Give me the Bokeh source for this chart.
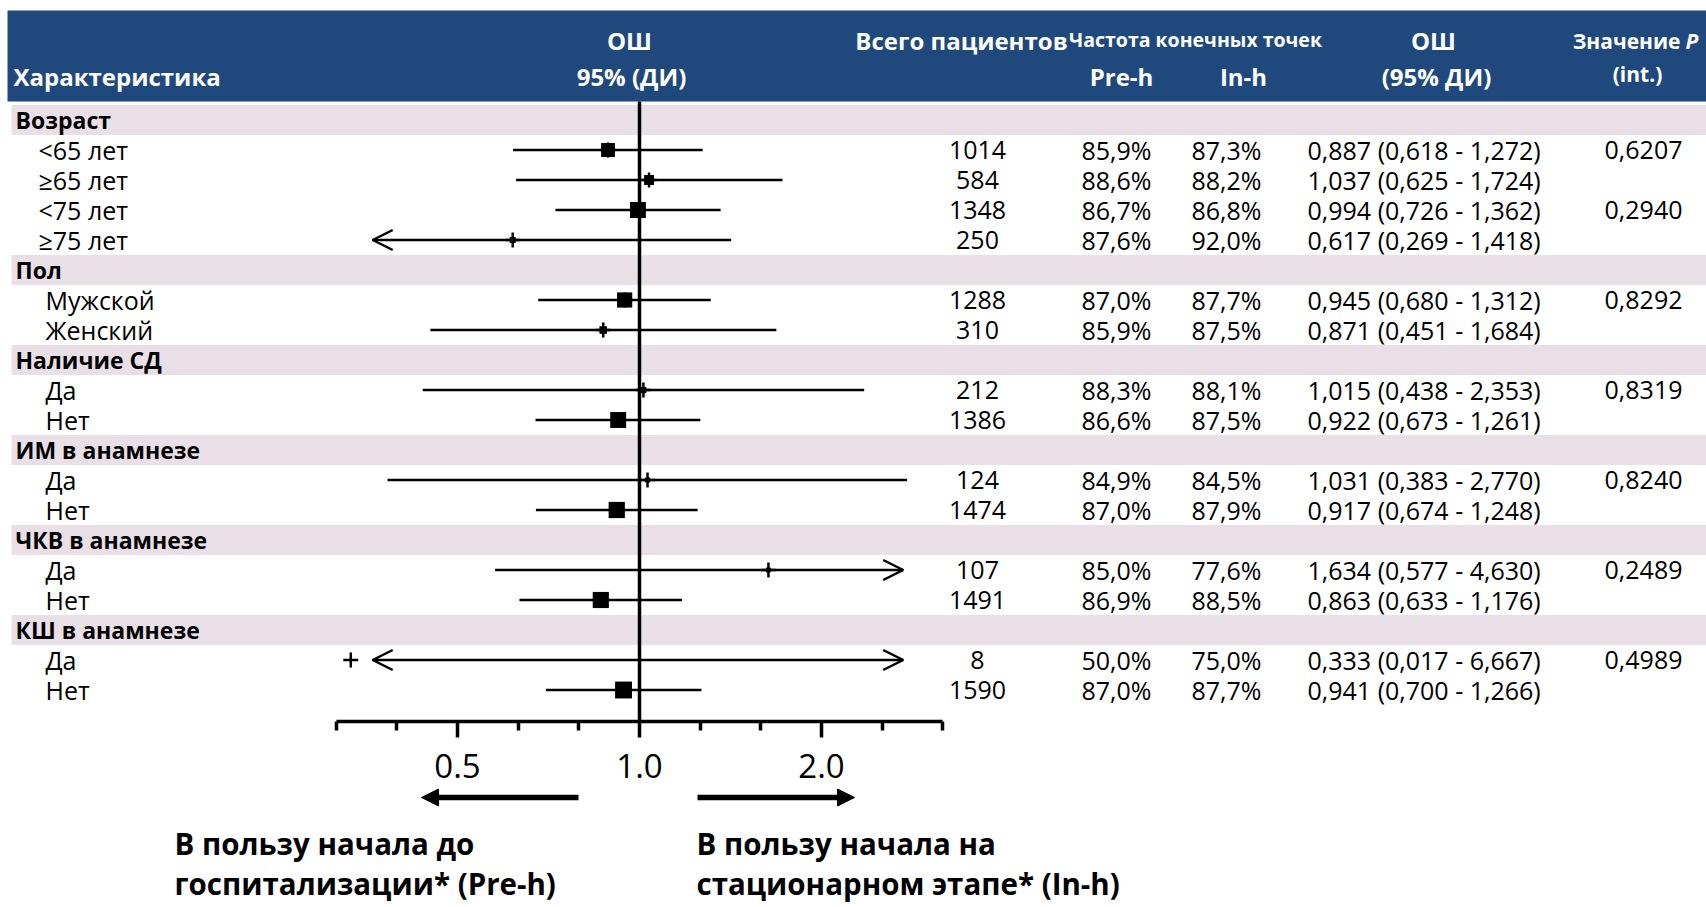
import math
from bokeh.plotting import figure
from bokeh.models import (Range1d, LogScale, LogAxis, FixedTicker, ColumnDataSource,
                          Arrow, OpenHead, NormalHead)
from bokeh.core.properties import value, field
from bokeh.embed import file_html
from bokeh.resources import INLINE

# ---------------- data ----------------
groups = ["Возраст", "Пол", "Наличие СД", "ИМ в анамнезе", "ЧКВ в анамнезе", "КШ в анамнезе"]
group_sizes = [4, 2, 2, 2, 2, 2]
sub_labels = ["<65 лет", "≥65 лет", "<75 лет", "≥75 лет",
              "Мужской", "Женский",
              "Да", "Нет",
              "Да", "Нет",
              "Да", "Нет",
              "Да", "Нет"]
n_total = [1014, 584, 1348, 250, 1288, 310, 212, 1386, 124, 1474, 107, 1491, 8, 1590]
pre_h = [85.9, 88.6, 86.7, 87.6, 87.0, 85.9, 88.3, 86.6, 84.9, 87.0, 85.0, 86.9, 50.0, 87.0]
in_h = [87.3, 88.2, 86.8, 92.0, 87.7, 87.5, 88.1, 87.5, 84.5, 87.9, 77.6, 88.5, 75.0, 87.7]
odds = [0.887, 1.037, 0.994, 0.617, 0.945, 0.871, 1.015, 0.922, 1.031, 0.917, 1.634, 0.863, 0.333, 0.941]
ci_lo = [0.618, 0.625, 0.726, 0.269, 0.680, 0.451, 0.438, 0.673, 0.383, 0.674, 0.577, 0.633, 0.017, 0.700]
ci_hi = [1.272, 1.724, 1.362, 1.418, 1.312, 1.684, 2.353, 1.261, 2.770, 1.248, 4.630, 1.176, 6.667, 1.266]
p_int = ["0,6207", "", "0,2940", "", "0,8292", "", "0,8319", "", "0,8240", "", "0,2489", "", "0,4989", ""]
tick_labels = {0.5: "0.5", 1.0: "1.0", 2.0: "2.0"}

# ---------------- layout ----------------
W, H = 1706, 907
M = 0                     # the page template has no body margin
ROW0 = 119.5              # page y of first row centre
PITCH = 30.0
ONE_X = 639.0             # page x of OR = 1
PX_LOG2 = 182.0           # px per doubling
AXIS_Y = 721.0            # page y of the OR axis
FONT = "Open Sans"
NAVY = "#1F497D"
LAV = "#E8DFE7"


def cx(page_x):
    return page_x - M


def ry(page_y):
    return (page_y - ROW0) / PITCH


def fmt(v, d):
    return f"{v:.{d}f}".replace(".", ",")


p = figure(width=W, height=H, output_backend="svg", toolbar_location=None,
           x_range=Range1d(0, W), y_range=Range1d(ry(M + H), ry(M)),
           x_axis_location=None, y_axis_location=None, min_border=0,
           background_fill_color="white", border_fill_color="white",
           outline_line_color=None)
p.grid.visible = False
p.extra_x_ranges = {"or": Range1d(2 ** ((M - ONE_X) / PX_LOG2), 2 ** ((M + W - ONE_X) / PX_LOG2))}
p.extra_x_scales = {"or": LogScale()}

# header band
p.quad(left=cx(7), right=W, top=ry(10), bottom=ry(101), fill_color=NAVY, line_color=None)

# rows
row = 0
group_rows, sub_rows, indents = [], [], []
for g, n in zip(groups, group_sizes):
    group_rows.append(row)
    row += 1
    for j in range(n):
        sub_rows.append(row)
        indents.append(38 if g == "Возраст" else 45)
        row += 1

p.quad(left=cx(11), right=W, top=[r - 0.5 for r in group_rows], bottom=[r + 0.5 for r in group_rows],
       fill_color=LAV, line_color=None)

bold_txt = dict(text_font=value(FONT), text_font_style="bold", text_baseline="middle")
reg_txt = dict(text_font=value(FONT), text_baseline="middle", text_color="black")

p.text(x=cx(15), y=group_rows, text=groups, text_font_size="23px", text_color="black",
       text_align="left", **bold_txt)

src = ColumnDataSource(dict(
    y=sub_rows,
    xl=[cx(v) for v in indents],
    lab=sub_labels,
    n=[str(v) for v in n_total],
    pre=[fmt(v, 1) + "%" for v in pre_h],
    inh=[fmt(v, 1) + "%" for v in in_h],
    ortxt=[f"{fmt(o, 3)} ({fmt(a, 3)} - {fmt(b, 3)})" for o, a, b in zip(odds, ci_lo, ci_hi)],
    pv=p_int,
))
FS = "25px"
p.text(x="xl", y="y", text="lab", source=src, text_font_size=FS, text_align="left", **reg_txt)
p.text(x=cx(977), y="y", text="n", source=src, text_font_size=FS, text_align="center", **reg_txt)
p.text(x=cx(1116), y="y", text="pre", source=src, text_font_size=FS, text_align="center", **reg_txt)
p.text(x=cx(1226), y="y", text="inh", source=src, text_font_size=FS, text_align="center", **reg_txt)
p.text(x=cx(1307), y="y", text="ortxt", source=src, text_font_size=FS, text_align="left", **reg_txt)
p.text(x=cx(1643), y="y", text="pv", source=src, text_font_size=FS, text_align="center", **reg_txt)


# header texts
def htext(x, y, t, size, align="center", style="bold"):
    p.text(x=[cx(x)], y=[ry(y)], text=[t], text_font=value(FONT), text_font_style=style,
           text_font_size=size, text_color="white", text_align=align, text_baseline="middle")


htext(13, 76, "Характеристика", "24px", "left")
htext(629, 40, "ОШ", "24px")
htext(631, 76, "95% (ДИ)", "24px")
htext(961, 40, "Всего пациентов", "24px")
htext(1195, 39, "Частота конечных точек", "19.5px")
htext(1121, 76, "Pre-h", "24px")
htext(1243, 76, "In-h", "24px")
htext(1433, 40, "ОШ", "24px")
htext(1436, 76, "(95% ДИ)", "24px")
htext(1680, 40, "Значение", "21px", "right")
htext(1685, 40, "P", "21px", "left", "bold italic")
htext(1637, 73, "(int.)", "21px")

# ---------------- forest ----------------
CLIP_LO, CLIP_HI = 0.362, 2.73
AX_MIN, AX_MAX = 2 ** (-5 / 3), 2 ** (5 / 3)

x0 = [max(a, CLIP_LO) if a < AX_MIN else a for a in ci_lo]
x1 = [min(b, CLIP_HI) if b > AX_MAX else b for b in ci_hi]
se = [math.log(b / a) / 3.92 for a, b in zip(ci_lo, ci_hi)]
sizes = [2.55 / s for s in se]

fsrc = ColumnDataSource(dict(y=sub_rows, x0=x0, x1=x1, orv=odds, size=sizes))

# reference line at OR = 1
p.segment(x0=[1.0], x1=[1.0], y0=[ry(101)], y1=[ry(AXIS_Y)], x_range_name="or",
          line_color="black", line_width=3.5)

p.segment(x0="x0", x1="x1", y0="y", y1="y", source=fsrc, x_range_name="or",
          line_color="black", line_width=2.5)
p.scatter(x="orv", y="y", source=fsrc, x_range_name="or", marker="square", size="size",
          fill_color="black", line_color=None)
p.scatter(x="orv", y="y", source=fsrc, x_range_name="or", marker="cross", size=15,
          line_color="black", line_width=2.5)

lo_rows = [r for r, a in zip(sub_rows, ci_lo) if a < AX_MIN]
hi_rows = [r for r, b in zip(sub_rows, ci_hi) if b > AX_MAX]
for rows_, tip in ((lo_rows, CLIP_LO), (hi_rows, CLIP_HI)):
    if rows_:
        asrc = ColumnDataSource(dict(y=rows_, xs=[1.0] * len(rows_), xe=[tip] * len(rows_)))
        p.add_layout(Arrow(end=OpenHead(size=20, line_width=2.5, line_color="black"),
                           x_start=field("xs"), x_end=field("xe"),
                           y_start=field("y"), y_end=field("y"),
                           line_alpha=0, x_range_name="or", source=asrc))

major = [0.5, 1.0, 2.0]
minor = [2 ** (i / 3) for i in range(-5, 6) if i % 3 != 0]
ax = LogAxis(x_range_name="or", fixed_location=ry(AXIS_Y), bounds=(AX_MIN, AX_MAX),
             ticker=FixedTicker(ticks=major, minor_ticks=minor),
             major_label_overrides=tick_labels,
             axis_line_width=3.5, axis_line_color="black",
             major_tick_line_width=3.5, minor_tick_line_width=3.5,
             major_tick_out=16, major_tick_in=0, minor_tick_out=9, minor_tick_in=0,
             major_label_text_font=FONT, major_label_text_font_size="33px",
             major_label_text_color="black", major_label_standoff=16)
p.add_layout(ax, "below")

# direction arrows and captions
p.add_layout(Arrow(end=NormalHead(size=17, fill_color="black", line_color="black"),
                   x_start=cx(578), x_end=cx(421), y_start=ry(797), y_end=ry(797),
                   line_width=5.5, line_color="black"))
p.add_layout(Arrow(end=NormalHead(size=17, fill_color="black", line_color="black"),
                   x_start=cx(697), x_end=cx(854), y_start=ry(797), y_end=ry(797),
                   line_width=5.5, line_color="black"))

cap = dict(text_font=value(FONT), text_font_style="bold", text_font_size="29.5px",
           text_color="black", text_align="left", text_baseline="middle")
p.text(x=[cx(174), cx(174)], y=[ry(843), ry(883)],
       text=["В пользу начала до", "госпитализации* (Pre-h)"], **cap)
p.text(x=[cx(696), cx(696)], y=[ry(843), ry(883)],
       text=["В пользу начала на", "стационарном этапе* (In-h)"], **cap)

open("out.html", "w").write(file_html(p, INLINE))
